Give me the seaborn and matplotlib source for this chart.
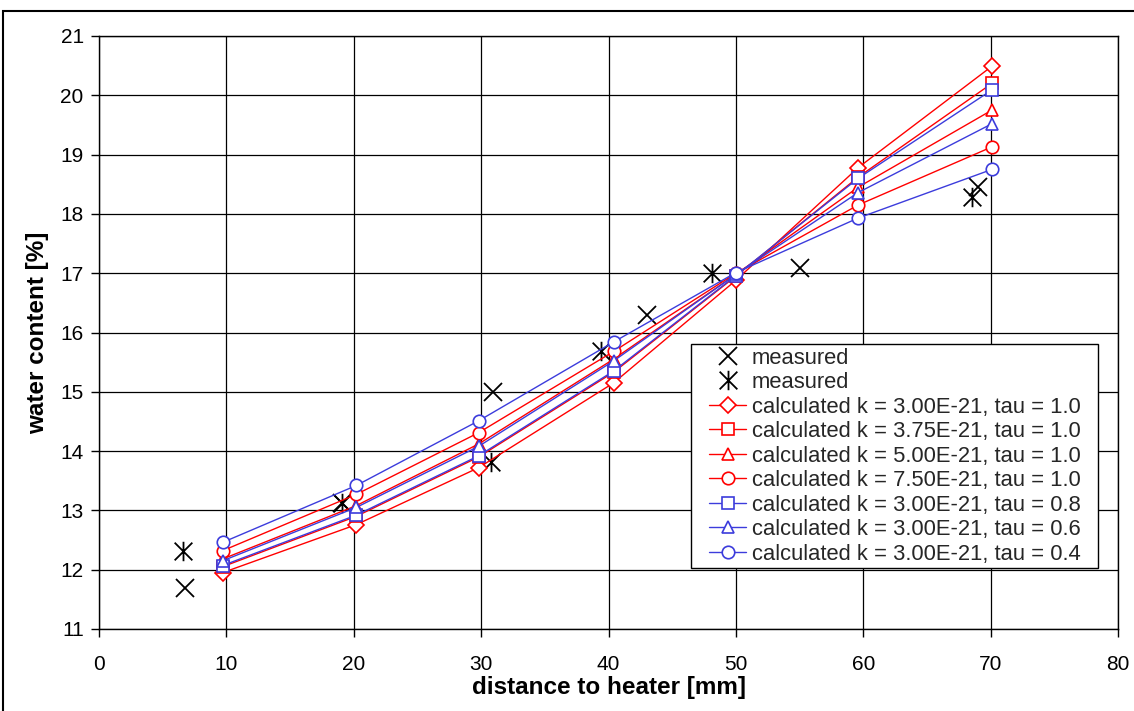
import numpy as np
import pandas as pd
import matplotlib
matplotlib.use("Agg")
import matplotlib.pyplot as plt
from matplotlib.path import Path
from matplotlib.patches import Rectangle
import seaborn as sns

# ---- data ----
meas_x_x = [6.75, 19.05, 30.9, 43.0, 55.0, 69.0]
meas_x_y = [11.69, 13.13, 14.99, 16.30, 17.08, 18.45]
meas_s_x = [6.57, 19.05, 30.8, 39.4, 48.1, 68.5]
meas_s_y = [12.32, 13.13, 13.81, 15.68, 17.01, 18.29]

calc_x = [9.7, 20.2, 29.8, 40.4, 50.0, 59.6, 70.1]
calc_k300_t10 = [11.95, 12.76, 13.72, 15.15, 16.88, 18.78, 20.49]
calc_k375_t10 = [12.05, 12.90, 13.90, 15.33, 16.95, 18.62, 20.20]
calc_k500_t10 = [12.18, 13.08, 14.12, 15.55, 16.98, 18.45, 19.75]
calc_k750_t10 = [12.32, 13.27, 14.31, 15.68, 17.00, 18.15, 19.13]
calc_k300_t08 = [12.07, 12.92, 13.92, 15.35, 16.96, 18.60, 20.09]
calc_k300_t06 = [12.15, 13.05, 14.08, 15.52, 16.98, 18.36, 19.52]
calc_k300_t04 = [12.46, 13.42, 14.51, 15.84, 17.01, 17.93, 18.75]

labels = [
    "calculated k = 3.00E-21, tau = 1.0",
    "calculated k = 3.75E-21, tau = 1.0",
    "calculated k = 5.00E-21, tau = 1.0",
    "calculated k = 7.50E-21, tau = 1.0",
    "calculated k = 3.00E-21, tau = 0.8",
    "calculated k = 3.00E-21, tau = 0.6",
    "calculated k = 3.00E-21, tau = 0.4",
]
series = [calc_k300_t10, calc_k375_t10, calc_k500_t10, calc_k750_t10,
          calc_k300_t08, calc_k300_t06, calc_k300_t04]

RED = "#ff0000"
BLUE = "#3c3cdc"
colors = [RED, RED, RED, RED, BLUE, BLUE, BLUE]
markers = ["D", "s", "^", "o", "s", "^", "o"]
msizes = [8, 8.5, 8.5, 9, 8.5, 8.5, 9]

sns.set_theme(style="white")
plt.rcParams["font.family"] = ["Liberation Sans", "DejaVu Sans"]

fig = plt.figure(figsize=(11.34, 7.11), dpi=100)
ax = fig.add_axes([99/1134, 1-629/711, (1118-99)/1134, (629-36)/711])

star_path = Path(
    [(-1, -1), (1, 1), (-1, 1), (1, -1), (0, -1.1), (0, 1.1)],
    [Path.MOVETO, Path.LINETO, Path.MOVETO, Path.LINETO, Path.MOVETO, Path.LINETO],
)

df_x = pd.DataFrame({"x": meas_x_x, "y": meas_x_y})
df_s = pd.DataFrame({"x": meas_s_x, "y": meas_s_y})
sns.lineplot(data=df_x, x="x", y="y", ax=ax, linestyle="none", marker="x",
             markersize=13, markeredgewidth=1.3, color="black",
             markeredgecolor="black", label="measured", sort=False)
sns.lineplot(data=df_s, x="x", y="y", ax=ax, linestyle="none", marker=star_path,
             markersize=14, markeredgewidth=1.3, color="black",
             markeredgecolor="black", label="measured", sort=False)

for vals, lab, c, m, ms in zip(series, labels, colors, markers, msizes):
    d = pd.DataFrame({"x": calc_x, "y": vals})
    sns.lineplot(data=d, x="x", y="y", ax=ax, color=c, marker=m, markersize=ms,
                 markerfacecolor="white", markeredgecolor=c, markeredgewidth=1.2,
                 linewidth=1.0, label=lab, sort=False)

ax.set_xlim(0, 80)
ax.set_ylim(11, 21)
ax.set_xticks(np.arange(0, 81, 10))
ax.set_yticks(np.arange(11, 22, 1))
ax.grid(True, color="black", linewidth=0.9)
ax.set_axisbelow(True)
for s in ax.spines.values():
    s.set_color("black")
    s.set_linewidth(1.0)
ax.tick_params(axis="both", direction="out", length=6, width=1, color="black",
               labelsize=15, labelcolor="black", bottom=True, left=True, pad=5)
ax.tick_params(axis="x", pad=13)
ax.set_xlabel("distance to heater [mm]", fontsize=17.5, fontweight="bold",
              color="black", labelpad=1)
ax.set_ylabel("water content [%]", fontsize=17.5, fontweight="bold",
              color="black", labelpad=8)

leg = ax.legend(loc="lower right", bbox_to_anchor=((1084 - 99) / 1019, 0.103),
                fontsize=15.8, frameon=True, fancybox=False, framealpha=1,
                edgecolor="black", handlelength=1.7, handletextpad=0.25,
                borderpad=0.15, labelspacing=0.16, borderaxespad=0)
leg.get_frame().set_linewidth(1.0)


class WideSquare:
    """Square frame with extra horizontal padding."""
    def __call__(self, x0, y0, width, height, mutation_size):
        dx = 0.65 * mutation_size
        x0 -= dx
        x1 = x0 + width + 2 * dx
        y1 = y0 + height
        return Path([(x0, y0), (x1, y0), (x1, y1), (x0, y1), (x0, y0)], closed=True)


leg.get_frame().set_boxstyle(WideSquare())

fig.patches.append(Rectangle((3/1134, -0.05), 1.2, 1-11/711+0.05,
                             transform=fig.transFigure, fill=False,
                             edgecolor="black", linewidth=1.5))

fig.savefig("out.png", dpi=100, facecolor="white")
